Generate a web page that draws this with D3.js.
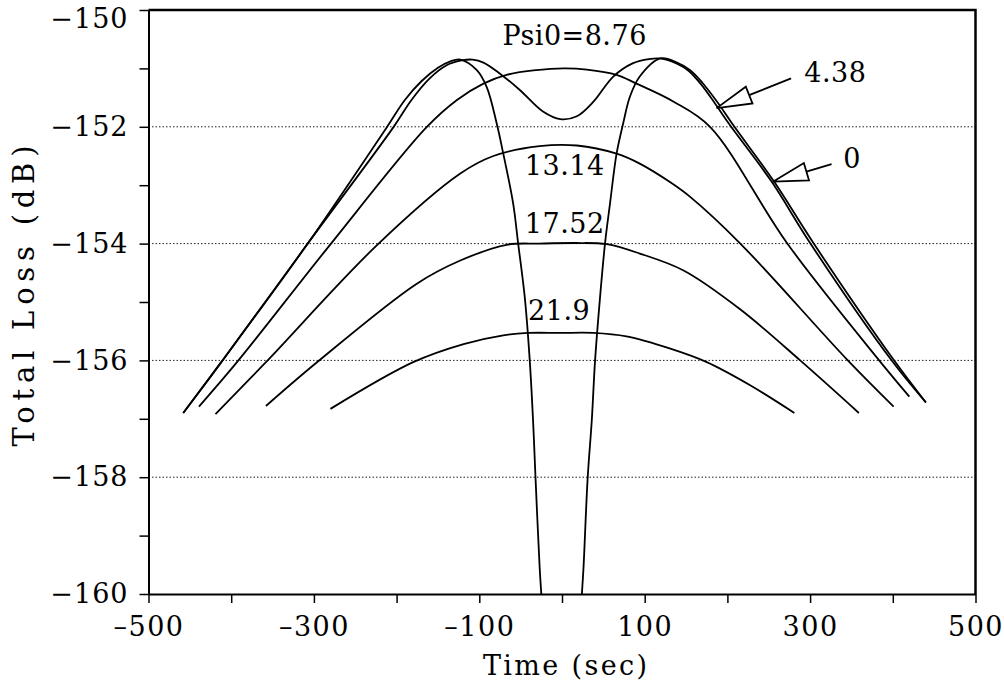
<!DOCTYPE html>
<html>
<head>
<meta charset="utf-8">
<script src="https://cdn.jsdelivr.net/npm/d3@7"></script>
<style>
  html, body { margin: 0; padding: 0; background: #fff; }
  svg { display: block; }
  text { font-family: "DejaVu Serif", serif; fill: #000; }
</style>
</head>
<body>
<svg id="chart" width="1004" height="683"></svg>
<script>
// Total loss versus time for several antenna pointing offsets (Psi0)
const psi0Labels = ["0", "4.38", "8.76", "13.14", "17.52", "21.9"];

// [time (sec), total loss (dB)]; null marks where the curve leaves the plot
const loss_psi0_0 = [
  [-458, -156.90], [-412, -156.03], [-309, -154.03], [-212, -152.01], [-190, -151.54],
  [-170, -151.22], [-150, -150.99], [-135, -150.88], [-123, -150.85], [-103, -151.03],
  [-91, -151.32], [-79, -151.94], [-71, -152.46], [-59, -153.32], [-53, -154.00],
  [-45, -154.92], [-39, -156.00], [-35, -157.03], [-32, -158.02], [-27, -159.55],
  [-25, -160.00], [0, null], [24, -160.00], [26, -159.55], [31, -158.02],
  [36, -157.03], [40, -156.00], [46, -154.92], [52, -154.00], [58, -153.32],
  [66, -152.46], [74, -151.94], [82, -151.49], [94, -151.14], [119, -150.83],
  [139, -150.90], [155, -151.03], [170, -151.25], [188, -151.58], [207, -151.97],
  [256, -152.93], [304, -153.99], [401, -155.99], [440, -156.72]
];
const loss_psi0_4_38 = [
  [-458, -156.90], [-412, -156.03], [-309, -154.03], [-204, -152.01], [-182, -151.54],
  [-160, -151.17], [-140, -150.95], [-120, -150.86], [-108, -150.85], [-95, -150.90],
  [-75, -151.09], [-51, -151.37], [-23, -151.74], [-2, -151.87], [18, -151.82],
  [38, -151.57], [62, -151.14], [86, -150.91], [105, -150.84], [119, -150.83],
  [139, -150.92], [153, -151.04], [168, -151.27], [185, -151.60], [203, -151.97],
  [253, -152.93], [300, -153.99], [398, -155.99], [440, -156.72]
];
const loss_psi0_8_76 = [
  [-439, -156.79], [-393, -156.03], [-281, -154.03], [-164, -152.01], [-127, -151.54],
  [-95, -151.26], [-67, -151.11], [-31, -151.03], [2, -151.00], [30, -151.02],
  [66, -151.11], [90, -151.26], [135, -151.57], [179, -152.00], [272, -153.99],
  [383, -155.99], [420, -156.62]
];
const loss_psi0_13_14 = [
  [-419, -156.92], [-358, -156.03], [-224, -154.03], [-123, -152.80], [-83, -152.50],
  [-27, -152.33], [18, -152.32], [66, -152.46], [94, -152.63], [131, -152.95],
  [155, -153.20], [215, -153.99], [345, -155.99], [401, -156.79]
];
const loss_psi0_17_52 = [
  [-358, -156.78], [-297, -156.04], [-176, -154.69], [-123, -154.29], [-67, -154.02],
  [-27, -154.00], [18, -153.99], [54, -154.01], [94, -154.17], [147, -154.46],
  [215, -155.12], [288, -156.00], [359, -156.90]
];
const loss_psi0_21_9 = [
  [-280, -156.83], [-180, -156.03], [-119, -155.72], [-71, -155.57], [-41, -155.53],
  [-2, -155.53], [38, -155.53], [78, -155.59], [131, -155.80], [175, -156.03],
  [228, -156.43], [281, -156.90]
];

const timeTicks = [-500, -400, -300, -200, -100, 0, 100, 200, 300, 400, 500];
const timeTickLabels = [-500, -300, -100, 100, 300, 500];
const lossTicks = [-160, -159, -158, -157, -156, -155, -154, -153, -152, -151, -150];
const lossTickLabels = [-160, -158, -156, -154, -152, -150];
const gridLevels = [-152, -154, -156, -158];

// Curve labels written inside the plot, anchored in data units
const curveLabels = [
  { text: "Psi0=8.76", t: -72, L: -150.60 },
  { text: "13.14", t: -45, L: -152.83 },
  { text: "17.52", t: -45, L: -153.82 },
  { text: "21.9", t: -41, L: -155.31 }
];
// Arrowed labels: arrow tip on the curve, tail toward the label
const arrowLabels = [
  { text: "4.38", tip: [187, -151.68], tail: [277, -151.17], at: [293, -151.23] },
  { text: "0", tip: [255, -152.94], tail: [326, -152.64], at: [340, -152.71] }
];

const svg = d3.select("#chart");
const x = d3.scaleLinear().domain([-500, 500]).range([148.5, 975.5]);
const y = d3.scaleLinear().domain([-160, -150]).range([594, 10]);
const [plotLeft, plotRight] = x.range();
const [plotBottom, plotTop] = y.range();

// dotted grid lines
svg.append("g").selectAll("line").data(gridLevels).join("line")
  .attr("x1", plotLeft).attr("x2", plotRight)
  .attr("y1", d => y(d)).attr("y2", d => y(d))
  .attr("stroke", "#222").attr("stroke-width", 1)
  .attr("stroke-dasharray", "1.5,2");

// frame: top and right edges
svg.append("path")
  .attr("d", `M${plotLeft},${plotTop}H${plotRight}V${plotBottom}`)
  .attr("fill", "none").attr("stroke", "#000").attr("stroke-width", 2.5);

// y axis
const yAxis = d3.axisLeft(y)
  .tickValues(lossTicks)
  .tickSize(9).tickSizeOuter(0).tickPadding(11)
  .tickFormat(d => lossTickLabels.includes(d) ? "\u2212" + Math.abs(d) : "");
const gy = svg.append("g").attr("transform", `translate(${plotLeft},0)`).call(yAxis);
gy.select(".domain").attr("stroke-width", 2);
gy.selectAll(".tick line").attr("stroke-width", 1.5);
gy.selectAll(".tick text")
  .style("font-family", "DejaVu Serif").style("font-size", "27px")
  .style("letter-spacing", "1px")
  .attr("y", d => Math.max(0, plotTop + 9 - y(d)));

// x axis
const xAxis = d3.axisBottom(x)
  .tickValues(timeTicks)
  .tickSize(9).tickSizeOuter(0).tickPadding(14)
  .tickFormat(d => timeTickLabels.includes(d) ? (d < 0 ? "\u2013" : "") + Math.abs(d) : "");
const gx = svg.append("g").attr("transform", `translate(0,${plotBottom})`).call(xAxis);
gx.select(".domain").attr("stroke-width", 2);
gx.selectAll(".tick line").attr("stroke-width", 1.5);
gx.selectAll(".tick text")
  .style("font-family", "DejaVu Serif").style("font-size", "27px")
  .style("letter-spacing", "1.5px");

// axis titles
svg.append("text")
  .attr("transform", `translate(34,296) rotate(-90)`)
  .attr("text-anchor", "middle")
  .attr("textLength", 301).attr("lengthAdjust", "spacing")
  .style("font-size", "29px")
  .text("Total Loss (dB)");
svg.append("text")
  .attr("x", 565).attr("y", 675)
  .attr("text-anchor", "middle")
  .attr("textLength", 164).attr("lengthAdjust", "spacing")
  .style("font-size", "27px")
  .text("Time (sec)");

// curves
svg.append("clipPath").attr("id", "plot-clip")
  .append("rect").attr("x", plotLeft).attr("y", plotTop)
  .attr("width", plotRight - plotLeft).attr("height", plotBottom - plotTop);

const series = [loss_psi0_0, loss_psi0_4_38, loss_psi0_8_76, loss_psi0_13_14, loss_psi0_17_52, loss_psi0_21_9];
const line = d3.line()
  .defined(d => d[1] !== null)
  .x(d => x(d[0])).y(d => y(d[1]))
  .curve(d3.curveCatmullRom.alpha(0.5));

svg.append("g").attr("clip-path", "url(#plot-clip)")
  .selectAll("path").data(series).join("path")
  .attr("class", (d, i) => "psi0-" + psi0Labels[i].replace(".", "_"))
  .attr("d", line)
  .attr("fill", "none").attr("stroke", "#000")
  .attr("stroke-width", 1.8).attr("stroke-linejoin", "round");

// curve labels
svg.append("g").selectAll("text").data(curveLabels).join("text")
  .attr("x", d => x(d.t)).attr("y", d => y(d.L))
  .style("font-size", "27px").style("letter-spacing", "0.5px")
  .text(d => d.text);

// arrows with open heads
const arrows = svg.append("g");
arrowLabels.forEach(a => {
  const tx = x(a.tip[0]), ty = y(a.tip[1]);
  const ex = x(a.tail[0]), ey = y(a.tail[1]);
  const len = Math.hypot(ex - tx, ey - ty);
  const ux = (ex - tx) / len, uy = (ey - ty) / len;
  const headLen = 35, halfW = 9;
  const bx = tx + ux * headLen, by = ty + uy * headLen;
  const p1 = [bx - uy * halfW, by + ux * halfW];
  const p2 = [bx + uy * halfW, by - ux * halfW];
  arrows.append("path")
    .attr("d", `M${tx},${ty}L${p1[0]},${p1[1]}L${p2[0]},${p2[1]}Z`)
    .attr("fill", "#fff").attr("stroke", "#000").attr("stroke-width", 1.8)
    .attr("stroke-linejoin", "miter");
  arrows.append("line")
    .attr("x1", bx).attr("y1", by).attr("x2", ex).attr("y2", ey)
    .attr("stroke", "#000").attr("stroke-width", 1.8);
  arrows.append("text")
    .attr("x", x(a.at[0])).attr("y", y(a.at[1]))
    .style("font-size", "27px").style("letter-spacing", "0.5px")
    .text(a.text);
});
</script>
</body>
</html>
